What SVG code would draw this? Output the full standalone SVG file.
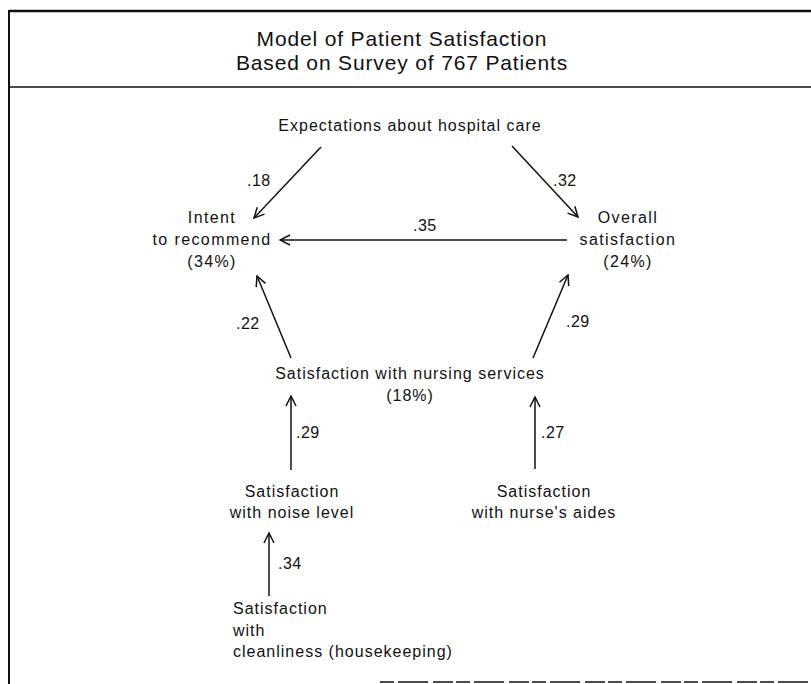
<svg xmlns="http://www.w3.org/2000/svg" width="811" height="684" viewBox="0 0 811 684">
<defs>
<style>
text{font-family:"Liberation Sans",Arial,sans-serif;fill:#111;}
.t{font-size:21px;text-anchor:middle;letter-spacing:0.85px;}
.n{font-size:16px;text-anchor:middle;letter-spacing:1px;}
.m{font-size:16px;text-anchor:middle;letter-spacing:1.4px;}
.l{font-size:16px;letter-spacing:0.5px;}
.w{font-size:16px;letter-spacing:1px;}
.c{stroke:#111;stroke-width:1.5;fill:none;marker-end:url(#ah);}
.f{stroke:#111;fill:none;}
</style>
<marker id="ah" viewBox="0 0 12 12" refX="11" refY="6" markerWidth="12" markerHeight="12" markerUnits="userSpaceOnUse" orient="auto">
<path d="M1,1 L11,6 L1,11" fill="none" stroke="#111" stroke-width="1.5"/>
</marker>
</defs>
<rect width="811" height="684" fill="#fff"/>
<g id="frame">
<line class="f" x1="9" y1="11" x2="811" y2="11" stroke-width="2.5"/>
<line class="f" x1="9" y1="10" x2="9" y2="684" stroke-width="2"/>
<line class="f" x1="9" y1="87" x2="811" y2="87" stroke-width="1.3"/>
<line class="f" x1="380" y1="682" x2="811" y2="682" stroke-width="1.5" stroke-dasharray="14,4,30,5,20,3"/>
</g>
<g id="title">
<text class="t" x="402" y="46">Model of Patient Satisfaction</text>
<text class="t" x="402" y="70">Based on Survey of 767 Patients</text>
</g>
<g id="expectations">
<text class="n" x="410" y="131">Expectations about hospital care</text>
</g>
<g id="intent">
<text class="m" x="212" y="223">Intent</text>
<text class="m" x="212" y="245">to recommend</text>
<text class="m" x="212" y="267">(34%)</text>
</g>
<g id="overall">
<text class="m" x="628" y="223">Overall</text>
<text class="m" x="628" y="245">satisfaction</text>
<text class="m" x="628" y="267">(24%)</text>
</g>
<g id="nursing">
<text class="n" x="410" y="379">Satisfaction with nursing services</text>
<text class="n" x="410" y="401">(18%)</text>
</g>
<g id="noise">
<text class="n" x="292" y="497">Satisfaction</text>
<text class="n" x="292" y="518">with noise level</text>
</g>
<g id="aides">
<text class="n" x="544" y="497">Satisfaction</text>
<text class="n" x="544" y="518">with nurse's aides</text>
</g>
<g id="cleanliness">
<text class="w" x="233" y="614">Satisfaction</text>
<text class="w" x="233" y="636">with</text>
<text class="w" x="233" y="657">cleanliness (housekeeping)</text>
</g>
<g id="connectors">
<line class="c" x1="321" y1="147" x2="254" y2="218"/>
<line class="c" x1="512" y1="146" x2="578" y2="217"/>
<line class="c" x1="567" y1="240" x2="280" y2="240"/>
<line class="c" x1="291" y1="358" x2="257" y2="276"/>
<line class="c" x1="533" y1="358" x2="568" y2="275"/>
<line class="c" x1="291" y1="470" x2="291" y2="396"/>
<line class="c" x1="535" y1="469" x2="535" y2="397"/>
<line class="c" x1="269" y1="596" x2="269" y2="533"/>
<text class="l" x="247" y="186">.18</text>
<text class="l" x="553" y="186">.32</text>
<text class="l" x="413" y="231">.35</text>
<text class="l" x="236" y="329">.22</text>
<text class="l" x="566" y="327">.29</text>
<text class="l" x="296" y="438">.29</text>
<text class="l" x="541" y="438">.27</text>
<text class="l" x="278" y="569">.34</text>
</g>
</svg>
